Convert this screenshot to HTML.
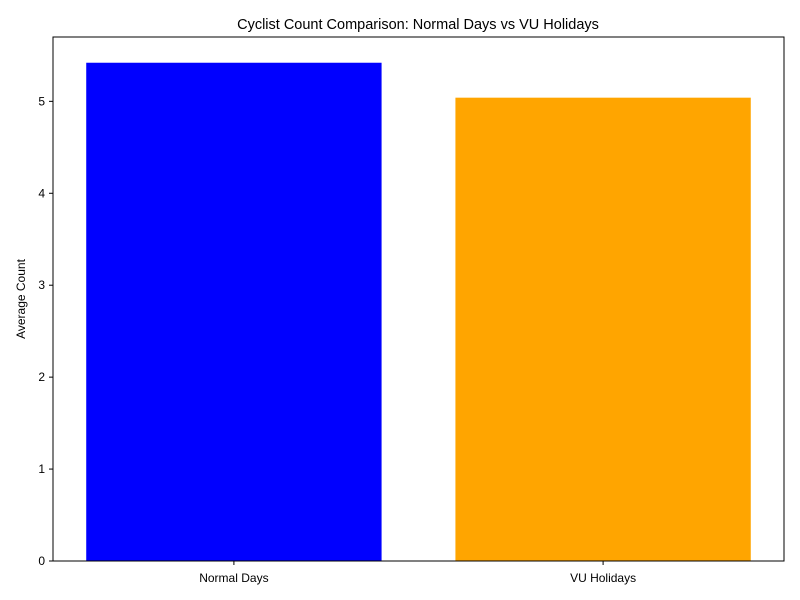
<!DOCTYPE html>
<html><head><meta charset="utf-8"><style>body{margin:0;background:#fff}svg{display:block;font-family:"Liberation Sans","DejaVu Sans",sans-serif}</style></head>
<body>
<svg id="chart" width="800" height="600">
<text x="418" y="29" font-size="14.5" text-anchor="middle">Cyclist Count Comparison: Normal Days vs VU Holidays</text>
<text transform="translate(25,299) rotate(-90)" font-size="12" text-anchor="middle">Average Count</text>
<g id="bars"></g><g id="ticks"></g>
<rect x="53" y="37" width="731" height="524" fill="none" stroke="#000" stroke-width="1"/>
</svg>
<script>
const categories=["Normal Days","VU Holidays"];
const values=[5.42,5.04];
const colors=["#0000ff","#ffa500"];
const yTicks=[0,1,2,3,4,5];
const L=53,R=784,T=37,B=561,ymax=5.7;
const xs=i=>L+(i+0.49)/1.98*(R-L);
const ys=v=>B-v/ymax*(B-T);
const ns="http://www.w3.org/2000/svg";
const bars=document.getElementById('bars'),ticks=document.getElementById('ticks');
const bw=0.8/1.98*(R-L);
categories.forEach((c,i)=>{
 const r=document.createElementNS(ns,'rect');
 r.setAttribute('x',xs(i)-bw/2);r.setAttribute('y',ys(values[i]));
 r.setAttribute('width',bw);r.setAttribute('height',B-ys(values[i]));r.setAttribute('fill',colors[i]);
 
 
 bars.appendChild(r);
 const l=document.createElementNS(ns,'line');
 l.setAttribute('x1',xs(i));l.setAttribute('x2',xs(i));l.setAttribute('y1',B);l.setAttribute('y2',B+4);l.setAttribute('stroke','#000');
 
 
 ticks.appendChild(l);
 const t=document.createElementNS(ns,'text');
 t.setAttribute('x',xs(i));t.setAttribute('y',B+21);t.setAttribute('font-size','12');t.setAttribute('text-anchor','middle');t.textContent=c;
 
 
 ticks.appendChild(t);
});
yTicks.forEach(v=>{
 const l=document.createElementNS(ns,'line');
 l.setAttribute('x1',L-4);l.setAttribute('x2',L);l.setAttribute('y1',ys(v));l.setAttribute('y2',ys(v));l.setAttribute('stroke','#000');
 
 
 ticks.appendChild(l);
 const t=document.createElementNS(ns,'text');
 t.setAttribute('x',L-8);t.setAttribute('y',ys(v)+4);t.setAttribute('font-size','12');t.setAttribute('text-anchor','end');t.textContent=v;
 
 
 ticks.appendChild(t);
});
</script>
</body></html>
